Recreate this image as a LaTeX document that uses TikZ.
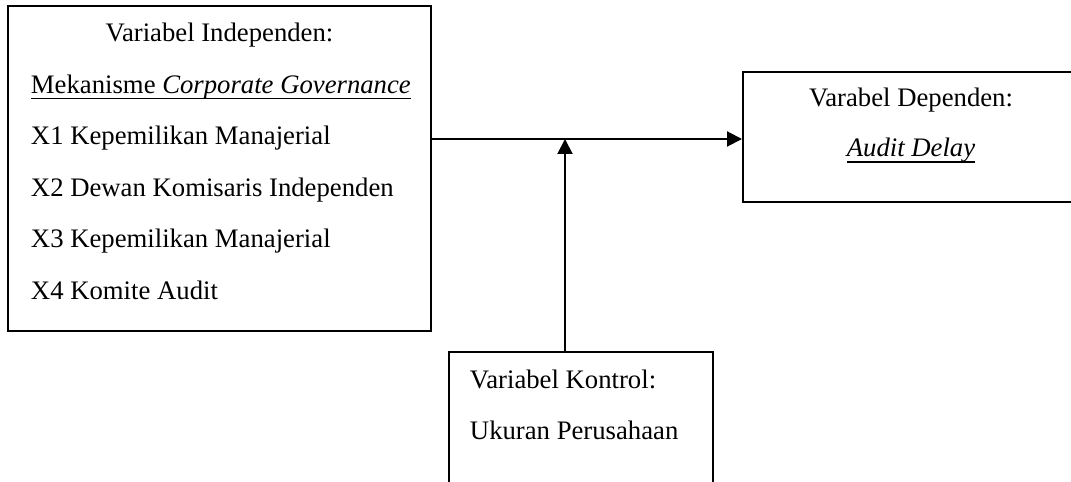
\documentclass[tikz,border=0pt]{standalone}
\usepackage{fontspec}
\setmainfont{Liberation Serif}
\usetikzlibrary{arrows.meta}
\newcommand\garis[1]{\setbox0\hbox{#1}\rlap{\rule[-4pt]{\wd0}{1.1pt}}\box0}
\begin{document}
\begin{tikzpicture}[font=\fontsize{19}{23}\selectfont, line width=1.4pt,
        >={Triangle[length=0.375cm, width=0.375cm]},
        kotak/.style={draw, inner sep=0pt},
        teks/.style={inner sep=0pt, anchor=base west}]
        \useasboundingbox (0,0) rectangle (26.775,-12.05);

        % kotak variabel
        \node[kotak, minimum width=10.575cm, minimum height=8.125cm]
        (indep) at (5.4875,-4.2125) {};
        \node[kotak, minimum width=8.4cm, minimum height=3.25cm]
        (dep) at (22.775,-3.425) {};
        \node[kotak, minimum width=6.6cm, minimum height=4.2cm]
        (kontrol) at (14.525,-10.9) {};

        % isi kotak independen
        \node[teks, anchor=base] (judulX) at (5.4875,-1.05) {Variabel Independen:};
        \node[teks] (mek) at (0.75,-2.3375)
        {\garis{Mekanisme \textit{Corporate Governance}}};
        \node[teks] (x1) at (0.75,-3.625) {X1 Kepemilikan Manajerial};
        \node[teks] (x2) at (0.75,-4.9125) {X2 Dewan Komisaris Independen};
        \node[teks] (x3) at (0.75,-6.2) {X3 Kepemilikan Manajerial};
        \node[teks] (x4) at (0.75,-7.4875) {X4 Komite Audit};

        % isi kotak dependen
        \node[teks, anchor=base] (judulY) at (22.775,-2.675) {Varabel Dependen:};
        \node[teks, anchor=base] (y) at (22.775,-3.925) {\garis{\textit{Audit Delay}}};

        % isi kotak kontrol
        \node[teks] (judulK) at (11.725,-9.725) {Variabel Kontrol:};
        \node[teks] (ukuran) at (11.725,-11.0) {Ukuran Perusahaan};

        \coordinate (temu) at (14.125,-3.475);
        \draw[->] (indep.east |- temu) -- (dep.west |- temu);
        \draw[->] (kontrol.north -| temu) -- (temu);
    \end{tikzpicture}
\end{document}
